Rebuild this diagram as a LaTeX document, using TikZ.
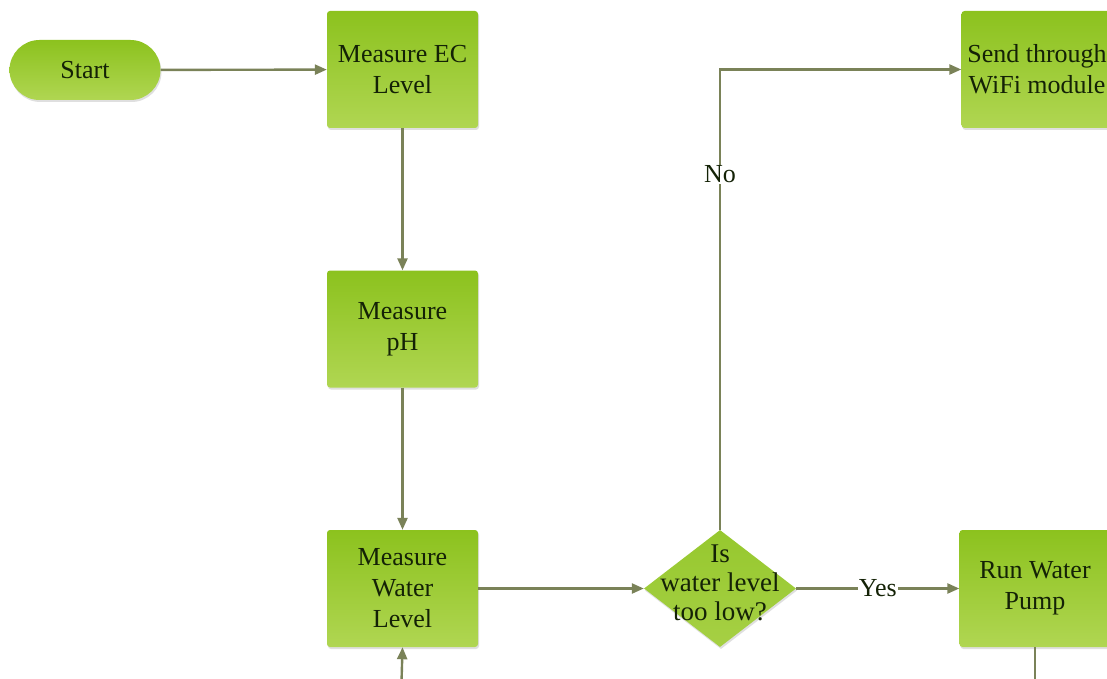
\documentclass[tikz,border=0pt]{standalone}
\usepackage{fontspec}
\setmainfont{Liberation Serif}
\usetikzlibrary{shapes.geometric,arrows.meta,shadows}

\definecolor{boxtop}{RGB}{140,194,30}
\definecolor{boxbot}{RGB}{176,214,82}
\definecolor{diatop}{RGB}{150,200,46}
\definecolor{diabot}{RGB}{166,208,68}
\definecolor{linecol}{RGB}{122,130,88}
\definecolor{txtcol}{RGB}{20,34,6}

\tikzset{
  base/.style={font=\fontsize{26}{31}\selectfont, text=txtcol, align=center,
    top color=boxtop, bottom color=boxbot, draw=none,
    drop shadow={shadow xshift=1pt, shadow yshift=-2pt, opacity=0.25}},
  procbox/.style={base, rectangle, rounded corners=3pt,
    minimum width=151pt, minimum height=117pt, inner sep=2pt},
  terminal/.style={base, rectangle, rounded corners=30pt,
    minimum width=151pt, minimum height=60pt},
  decision/.style={base, diamond, top color=diatop, bottom color=diabot,
    minimum width=152pt, minimum height=117pt, inner sep=0pt},
  line/.style={draw=linecol, line width=2.4pt},
  arr/.style={line, -{Triangle[length=12pt,width=10pt]}},
  lbl/.style={font=\fontsize{26}{31}\selectfont, text=txtcol, fill=white, inner sep=1pt},
}

\begin{document}
\begin{tikzpicture}[x=1pt, y=-1pt]
  \useasboundingbox (0,0) rectangle (1107,679);
  \clip (0,0) rectangle (1107,679);
  \fill[white] (0,0) rectangle (1107,679);

  % process steps
  \node[terminal] (start) at (85,70) {Start};
  \node[procbox] (ec)   at (402.5,69.5)  {Measure EC\\Level};
  \node[procbox] (ph)   at (402.5,329)   {Measure\\pH};
  \node[procbox] (wl)   at (402.5,588.5) {Measure\\Water\\Level};
  \node[decision] (dec) at (720,588.5) {};
  \node[font=\fontsize{27}{29}\selectfont, text=txtcol, align=center] (dectext)
     at ([yshift=6pt]dec.center) {Is\\water level\\too low?};
  \node[procbox] (send) at (1037,69.5)  {Send through\\WiFi module};
  \node[procbox] (pump) at (1035,588.5) {Run Water\\Pump};

  % loop ends leaving the frame
  \coordinate (pumpout) at (1035,700);
  \coordinate (loopin)  at (401,700);

  % connectors
  \draw[arr] (start) -- (ec);
  \draw[arr] (ec) -- (ph);
  \draw[arr] (ph) -- (wl);
  \draw[arr] (wl) -- (dec);
  \draw[arr] (dec.north) |- node[lbl, pos=0.386] {No} (send.west);
  \draw[arr] (dec.east) -- node[lbl] {Yes} (pump.west);
  \draw[line] (pump.south) -- (pumpout);
  \draw[arr] (loopin) -- (wl.south);
\end{tikzpicture}
\end{document}
